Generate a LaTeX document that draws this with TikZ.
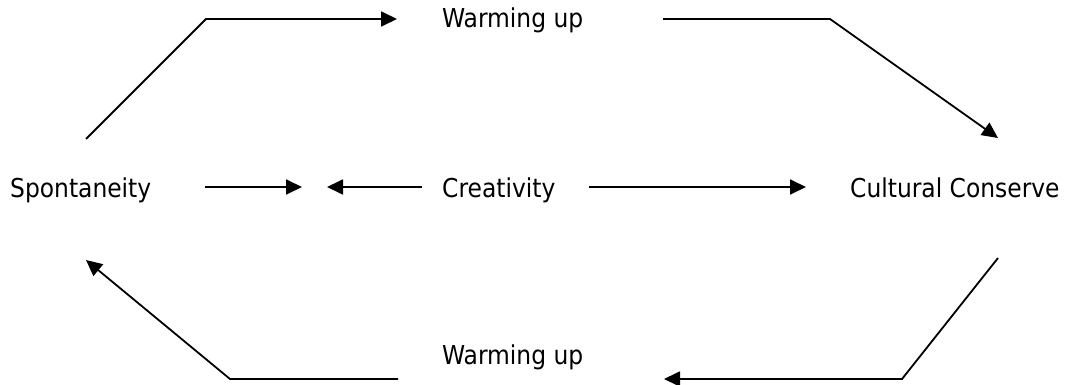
\documentclass[tikz,border=0pt]{standalone}
\usepackage{fontspec}
\setmainfont{DejaVu Sans Condensed}
\usetikzlibrary{arrows.meta}
\begin{document}
\begin{tikzpicture}[x=1pt,y=-1pt,
  label/.style={inner sep=0pt,font=\fontsize{26}{30}\selectfont},
  link/.style={line width=1.8pt,line join=miter},
  arrowed/.style={link,-{Triangle[length=16pt,width=15pt]}}]
  \useasboundingbox (0,0) rectangle (1065,385);
  % labels
  \node[label,anchor=base west] (spont) at (10,197) {Spontaneity};
  \node[label,anchor=base west] (creat) at (442,197) {Creativity};
  \node[label,anchor=base west] (cons) at (850,197) {Cultural Conserve};
  \node[label,anchor=base west] (warmT) at (442,28) {Warming up};
  \node[label,anchor=base west] (warmB) at (442,364) {Warming up};
  % route points
  \coordinate (a1) at (86,139);  \coordinate (a2) at (206,19);  \coordinate (a3) at (397,19);
  \coordinate (b1) at (663,19);  \coordinate (b2) at (830,19);  \coordinate (b3) at (998,138);
  \coordinate (c1) at (998,258); \coordinate (c2) at (902,379); \coordinate (c3) at (664,379);
  \coordinate (d1) at (398,379); \coordinate (d2) at (230,379); \coordinate (d3) at (86,260);
  \coordinate (m1) at (205,187); \coordinate (m2) at (302,187);
  \coordinate (m3) at (422,187); \coordinate (m4) at (327,187);
  \coordinate (m5) at (589,187); \coordinate (m6) at (806,187);
  % cycle of warming up
  \draw[arrowed] (a1) -- (a2) -- (a3);
  \draw[arrowed] (b1) -- (b2) -- (b3);
  \draw[arrowed] (c1) -- (c2) -- (c3);
  \draw[arrowed] (d1) -- (d2) -- (d3);
  % middle row
  \draw[arrowed] (m1) -- (m2);
  \draw[arrowed] (m3) -- (m4);
  \draw[arrowed] (m5) -- (m6);
\end{tikzpicture}
\end{document}
